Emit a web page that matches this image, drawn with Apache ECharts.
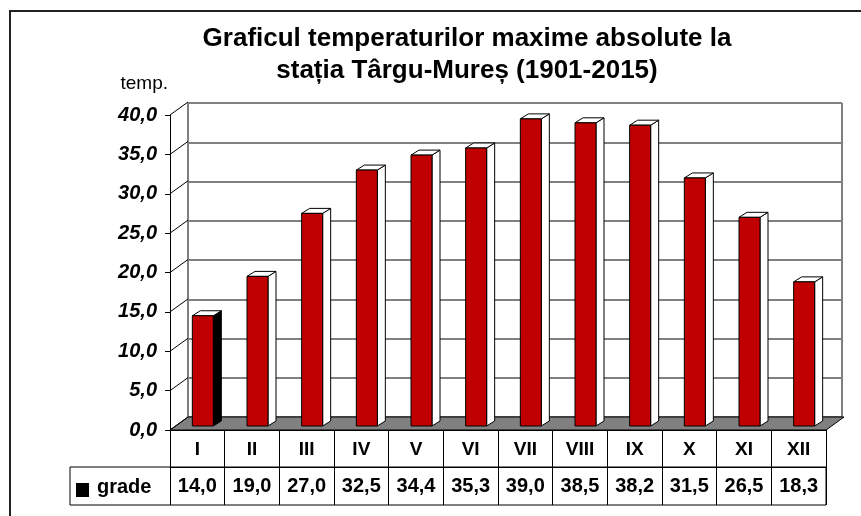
<!DOCTYPE html>
<html>
<head>
<meta charset="utf-8">
<script src="https://cdn.jsdelivr.net/npm/echarts@6/dist/echarts.min.js"></script>
<style>
  html, body { margin: 0; padding: 0; background: #fff; }
  #chart { width: 861px; height: 516px; }
</style>
</head>
<body>
<div id="chart"></div>
<script>
// luni si temperaturi maxime absolute
const months = ["I", "II", "III", "IV", "V", "VI", "VII", "VIII", "IX", "X", "XI", "XII"];
const grade = [14.0, 19.0, 27.0, 32.5, 34.4, 35.3, 39.0, 38.5, 38.2, 31.5, 26.5, 18.3];
const yTicks = [0, 5, 10, 15, 20, 25, 30, 35, 40];

const FONT = "Liberation Sans";
const fmt = (v) => Number(v).toFixed(1).replace(".", ",");

// adancimea peretelui din spate
const WALL_DX = 18, WALL_DY = -13;
// pozitia barelor in adancime
const BAR_SHIFT_X = 5.5, BAR_SHIFT_Y = -4, BAR_W = 21, BAR_DX = 8, BAR_DY = -5;

const chart = echarts.init(document.getElementById("chart"));

chart.setOption({
  backgroundColor: "#fff",
  animation: false,
  title: {
    text: "Graficul temperaturilor maxime absolute la\nstația Târgu-Mureș (1901-2015)",
    left: 462,
    top: 18,
    textAlign: "center",
    textStyle: { fontFamily: FONT, fontSize: 26, fontWeight: "bold", color: "#000", lineHeight: 32 },
  },
  grid: [
    // planul din fata
    { left: 170, top: 115, width: 656, height: 315, show: false },
    // peretele din spate
    { left: 188, top: 103, width: 654, height: 314, show: true, backgroundColor: "#fff", borderColor: "#000", borderWidth: 1, z: 0 },
  ],
  xAxis: [
    {
      type: "category",
      gridIndex: 0,
      data: months,
      position: "bottom",
      axisLine: { lineStyle: { color: "#000", width: 1 } },
      axisTick: { show: true, length: 38, lineStyle: { color: "#000" } },
      axisLabel: { fontFamily: FONT, fontSize: 19, fontWeight: "bold", color: "#000", margin: 10 },
      z: 5,
    },
    {
      type: "category",
      gridIndex: 0,
      data: grade.map(fmt),
      position: "bottom",
      offset: 37,
      axisLine: { lineStyle: { color: "#000", width: 1 } },
      axisTick: { show: true, length: 38, lineStyle: { color: "#000" } },
      axisLabel: { fontFamily: FONT, fontSize: 20, fontWeight: "bold", color: "#000", margin: 9 },
      z: 5,
    },
    {
      type: "category",
      gridIndex: 1,
      data: months,
      show: false,
    },
  ],
  yAxis: [
    {
      type: "value",
      gridIndex: 0,
      min: 0,
      max: 40,
      interval: 5,
      name: "temp.",
      nameLocation: "end",
      nameGap: 22,
      nameTextStyle: { fontFamily: FONT, fontSize: 19, color: "#000", align: "right", padding: [0, 2, 0, 0] },
      axisLine: { show: true, lineStyle: { color: "#000", width: 1 } },
      axisTick: { show: true, length: 5, lineStyle: { color: "#000" } },
      axisLabel: {
        fontFamily: FONT, fontSize: 20, fontWeight: "bold", fontStyle: "italic", color: "#000", margin: 13,
        formatter: fmt,
      },
      splitLine: { show: false },
      z: 5,
    },
    {
      type: "value",
      gridIndex: 1,
      min: 0,
      max: 40,
      interval: 5,
      axisLine: { show: false },
      axisTick: { show: false },
      axisLabel: { show: false },
      splitLine: { show: true, lineStyle: { color: "#808080", width: 2 } },
    },
  ],
  series: [
    {
      // podeaua gri
      type: "custom",
      xAxisIndex: 0,
      yAxisIndex: 0,
      data: [[0, 0]],
      z: 1,
      silent: true,
      renderItem: function (params, api) {
        const cs = params.coordSys;
        const y0 = api.coord([0, 0])[1];
        const x0 = cs.x, x1 = cs.x + cs.width;
        return {
          type: "polygon",
          shape: { points: [[x0, y0], [x1, y0], [x1 + WALL_DX, y0 + WALL_DY], [x0 + WALL_DX, y0 + WALL_DY]] },
          style: { fill: "#808080", stroke: "#000", lineWidth: 1 },
        };
      },
    },
    {
      // liniile oblice de pe peretele din stanga
      type: "custom",
      xAxisIndex: 0,
      yAxisIndex: 0,
      data: yTicks.map((t) => [0, t]),
      z: 2,
      silent: true,
      renderItem: function (params, api) {
        const cs = params.coordSys;
        const y = api.coord([0, api.value(1)])[1];
        return {
          type: "line",
          shape: { x1: cs.x, y1: y, x2: cs.x + WALL_DX, y2: y + WALL_DY },
          style: { stroke: "#000", lineWidth: 1 },
        };
      },
    },
    {
      // coloanele 3D
      type: "custom",
      xAxisIndex: 0,
      yAxisIndex: 0,
      data: grade.map((v, i) => [i, v]),
      z: 3,
      renderItem: function (params, api) {
        const top = api.coord([api.value(0), api.value(1)]);
        const base = api.coord([api.value(0), 0]);
        const cx = top[0] + BAR_SHIFT_X;
        const xl = cx - BAR_W / 2, xr = cx + BAR_W / 2;
        const yt = top[1] + BAR_SHIFT_Y, yb = base[1] + BAR_SHIFT_Y;
        const sideFill = params.dataIndex === 0 ? "#000" : "#fff";
        return {
          type: "group",
          children: [
            {
              type: "polygon",
              shape: { points: [[xr, yt], [xr + BAR_DX, yt + BAR_DY], [xr + BAR_DX, yb + BAR_DY], [xr, yb]] },
              style: { fill: sideFill, stroke: "#000", lineWidth: 1 },
            },
            {
              type: "polygon",
              shape: { points: [[xl, yt], [xl + BAR_DX, yt + BAR_DY], [xr + BAR_DX, yt + BAR_DY], [xr, yt]] },
              style: { fill: "#fff", stroke: "#000", lineWidth: 1 },
            },
            {
              type: "rect",
              shape: { x: xl, y: yt, width: BAR_W, height: yb - yt },
              style: { fill: "#C00000", stroke: "#000", lineWidth: 1 },
            },
          ],
        };
      },
    },
  ],
  graphic: [
    {
      // chenarul exterior
      type: "rect",
      shape: { x: 10, y: 11, width: 900, height: 600 },
      style: { fill: null, stroke: "#222", lineWidth: 2 },
      silent: true,
      z: 10,
    },
    {
      // randul cu valori
      type: "rect",
      shape: { x: 70, y: 467, width: 756, height: 38 },
      style: { fill: null, stroke: "#000", lineWidth: 1 },
      silent: true,
      z: 10,
    },
    {
      type: "rect",
      shape: { x: 76, y: 483, width: 13, height: 14 },
      style: { fill: "#000" },
      silent: true,
      z: 10,
    },
    {
      type: "text",
      left: 97,
      top: 477,
      style: { text: "grade", fontFamily: FONT, fontSize: 20, fontWeight: "bold", fill: "#000" },
      silent: true,
      z: 10,
    },
  ],
});
</script>
</body>
</html>
